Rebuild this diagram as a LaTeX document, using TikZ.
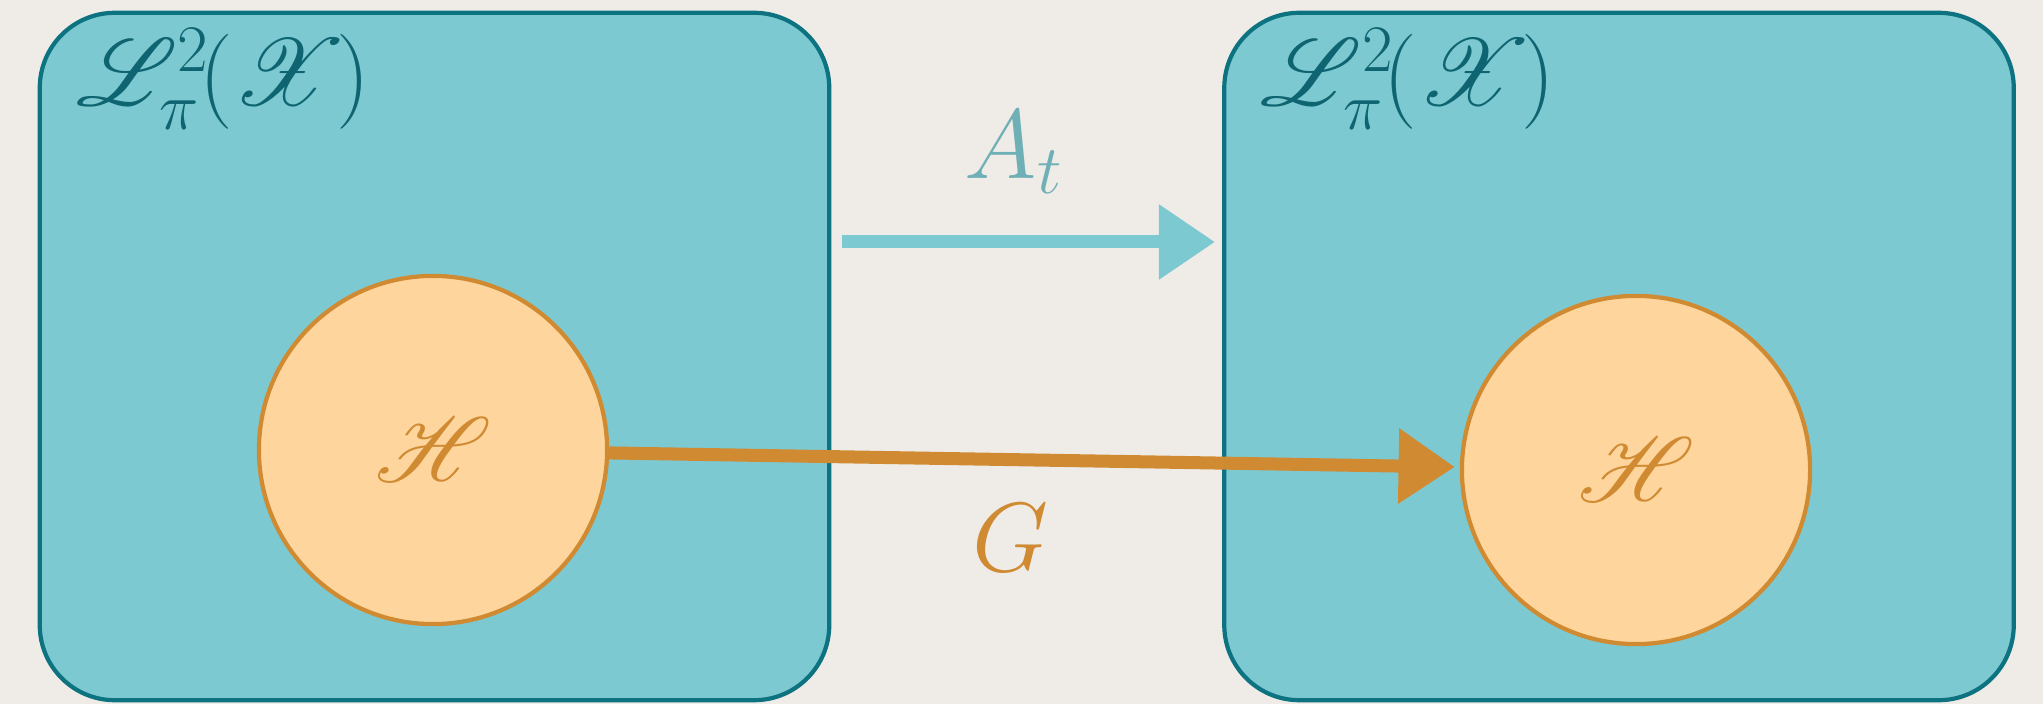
\documentclass[tikz,border=0pt]{standalone}
\usepackage{fix-cm}
\usepackage{tikz}
\usetikzlibrary{positioning,arrows.meta}
\usepackage{amsmath}
\DeclareFontFamily{U}{rsfs}{\skewchar\font127}
\DeclareFontShape{U}{rsfs}{m}{n}{<-6>rsfs5<6-8>rsfs7<8->rsfs10}{}
\usepackage{mathrsfs}
\usepackage{xcolor}

\definecolor{paper}{HTML}{EFECE7}
\definecolor{tealfill}{HTML}{7DC9D2}
\definecolor{tealedge}{HTML}{0D7381}
\definecolor{tealtext}{HTML}{0E6571}
\definecolor{tealsoft}{HTML}{6FAFB6}
\definecolor{ochre}{HTML}{CF8A32}
\definecolor{peach}{HTML}{FED59C}

\begin{document}
\begin{tikzpicture}[x=0.01cm, y=-0.01cm,
        space/.style={draw=tealedge, fill=tealfill, line width=1.2pt,
            rounded corners=0.75cm, minimum width=7.89cm,
            minimum height=6.87cm, inner sep=0pt},
        spacename/.style={text=tealtext, inner sep=0pt,
            font=\fontsize{27}{32}\selectfont},
        subspace/.style={circle, draw=ochre, fill=peach, line width=1.2pt,
            minimum size=3.48cm, inner sep=0pt, text=ochre,
            font=\fontsize{26}{32}\selectfont},
        maplabel/.style={inner sep=0pt, font=\fontsize{28}{34}\selectfont},
        maparrow/.style={line width=3.7pt,
            -{Triangle[length=16pt, width=20.5pt]}}]
        % paper
        \fill[paper] (0,0) rectangle (2043,704);
        \useasboundingbox (0,0) rectangle (2043,704);

        % the two spaces
        \node[space] (lbox) at (434.5,356.5) {};
        \node[space] (rbox) at (1619,356.5) {};
        \node[spacename, anchor=north west] (lname)
            at ([xshift=0.38cm, yshift=-0.17cm]lbox.north west)
            {$\mathscr{L}^2_\pi\mkern-2mu(\mathscr{X}\mkern-2mu)$};
        \node[spacename, anchor=north west] (rname)
            at ([xshift=0.38cm, yshift=-0.17cm]rbox.north west)
            {$\mathscr{L}^2_\pi\mkern-2mu(\mathscr{X}\mkern-2mu)$};

        % subspaces
        \node[subspace] (lh) at (433,450) {$\mathscr{H}$};
        \node[subspace] (rh) at (1636,470) {$\mathscr{H}$};

        % maps
        \coordinate (atstart) at (842,242);
        \coordinate (atend) at (1215,242);
        \draw[maparrow, tealfill] (atstart) -- (atend);
        \node[maplabel, text=tealsoft] (at) at (1014,152) {$A_t$};

        \draw[maparrow, ochre, shorten >=0.05cm] (lh) -- (rh);
        \node[maplabel, text=ochre] (g) at (1011,538) {$G$};
    \end{tikzpicture}
\end{document}
